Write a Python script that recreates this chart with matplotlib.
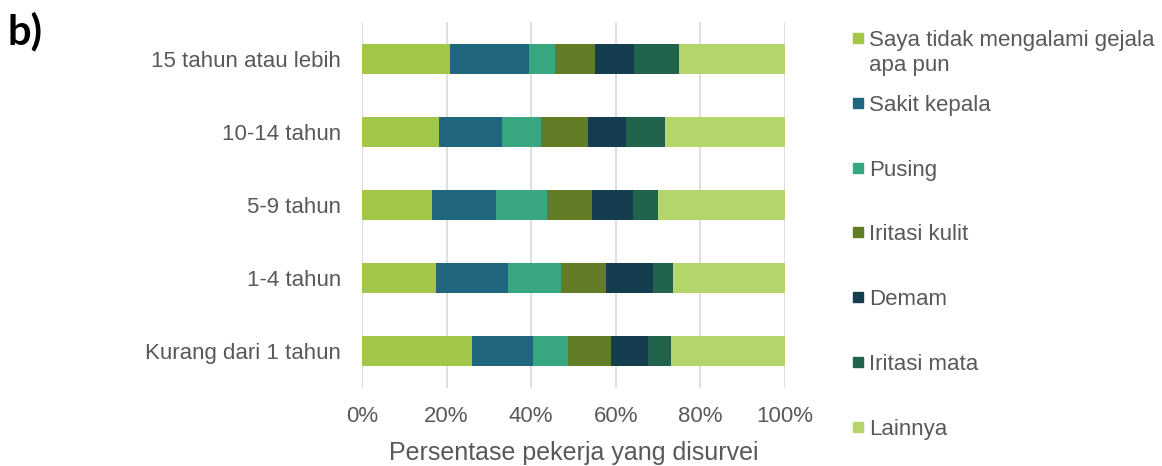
import matplotlib.pyplot as plt
from matplotlib.patches import Rectangle
import numpy as np

plt.rcParams['font.family'] = ['Liberation Sans', 'DejaVu Sans']

# Kelompok masa kerja (dari atas ke bawah)
kategori = ["15 tahun atau lebih", "10-14 tahun", "5-9 tahun", "1-4 tahun", "Kurang dari 1 tahun"]

gejala = ["Saya tidak mengalami gejala\napa pun", "Sakit kepala", "Pusing",
          "Iritasi kulit", "Demam", "Iritasi mata", "Lainnya"]

# Persentase tiap gejala per kelompok (urutan sama dengan kategori)
tidak_ada = [20.8, 18.3, 16.5, 17.6, 25.9]
sakit_kepala = [18.7, 14.8, 15.1, 16.8, 14.5]
pusing = [6.2, 9.3, 12.2, 12.6, 8.2]
iritasi_kulit = [9.4, 11.1, 10.5, 10.6, 10.2]
demam = [9.2, 8.8, 9.7, 11.1, 8.8]
iritasi_mata = [10.7, 9.4, 5.9, 4.9, 5.4]
lainnya = [25.0, 28.3, 30.1, 26.4, 27.0]

warna = ["#A2C748", "#21667F", "#38A67E", "#637D26", "#143D4F", "#21634B", "#B4D56C"]

seri = [tidak_ada, sakit_kepala, pusing, iritasi_kulit, demam, iritasi_mata, lainnya]

W, H = 1162, 466
fig = plt.figure(figsize=(W / 100, H / 100), dpi=100)
ax = fig.add_axes([362 / W, 78 / H, 423 / W, 366 / H])

y = np.arange(len(kategori))
kiri = np.zeros(len(kategori))
for nilai, c in zip(seri, warna):
    ax.barh(y, nilai, left=kiri, height=0.41, color=c, zorder=3)
    kiri += np.array(nilai)

ax.set_xlim(0, 100)
ax.set_ylim(len(kategori) - 0.5, -0.5)
ax.set_xticks(np.arange(0, 101, 20))
ax.set_xticklabels([f"{v}%" for v in range(0, 101, 20)])
ax.set_yticks(y)
ax.set_yticklabels(kategori)
ax.tick_params(axis='both', length=0, labelsize=16, colors="#595959")
ax.tick_params(axis='x', pad=13)
ax.tick_params(axis='y', pad=15)
ax.grid(axis='x', color="#D9D9D9", linewidth=1.2, zorder=0)
for s in ax.spines.values():
    s.set_visible(False)
ax.set_xlabel("Persentase pekerja yang disurvei", fontsize=18, color="#595959", labelpad=10)

# Legenda manual di sebelah kanan
leg_y = [38, 103, 168, 232, 297, 362, 427]
for lbl, c, yy in zip(gejala, warna, leg_y):
    fig.patches.append(Rectangle((853 / W, 1 - (yy + 5) / H), 10 / W, 10 / H,
                                 transform=fig.transFigure, color=c))
    for i, baris in enumerate(lbl.split("\n")):
        fig.text(869 / W, 1 - (yy + 8 + 25 * i) / H, baris, fontsize=16,
                 color="#595959", va='baseline', ha='left')

fig.text(8 / W, 1 - 31 / H, "b)", fontsize=30, fontweight='bold',
         family=['Lato', 'DejaVu Sans'], va='center', ha='left')

fig.savefig("out.png", dpi=100)
